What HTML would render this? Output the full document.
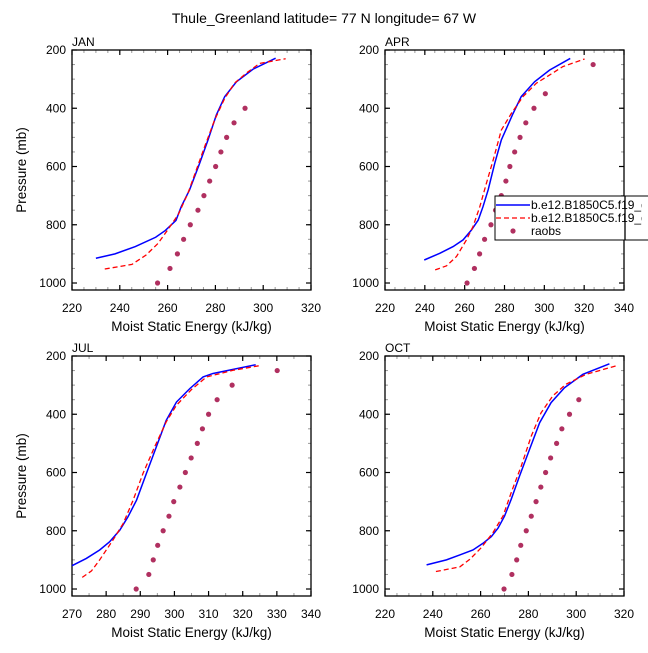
<!DOCTYPE html>
<html><head><meta charset="utf-8"><style>
html,body{margin:0;padding:0;background:#fff;}
svg text{font-family:"Liberation Sans",Arial,sans-serif;}
</style></head><body>
<svg id="chart" width="648" height="648" xmlns="http://www.w3.org/2000/svg">
<text x="324" y="23" font-size="14" text-anchor="middle">Thule_Greenland  latitude= 77 N longitude= 67 W</text>
</svg>
<script>
// JAN
const janBlueX=[230,238,246.5,255,259,263.5,265.7,269.2,273.4,276.9,280.4,283.9,288.8,295.7,305.2];
const janBlueP=[915,900,875,843,820,785,738,680,589,509,423,360,309,266,228];
const janRedX=[233.7,245.1,251,256,260,264.4,268.5,272,275.5,279.7,283.9,288,293,298.5,309.4];
const janRedP=[952,936,904,864,818,766,692,612,532,440,366,314,279,246,230];
const janObsX=[255.8,261,264.1,266.7,269.5,272.7,275.2,277.6,280.1,282.3,284.7,287.8,292.4];
const janObsP=[1000,950,900,850,800,750,700,650,600,550,500,450,400];
// APR
const aprBlueX=[239.7,247.5,254.2,259.2,263.4,266.8,269.2,271.8,275.1,278.4,284.3,288.4,295.1,302.6,313];
const aprBlueP=[921,898,875,852,818,784,738,680,589,509,418,360,309,269,229];
const aprRedX=[245.2,250.9,255.9,260.9,264.2,267.6,270.9,274.3,278.4,283.4,289.3,296,302.6,309.3,320.2];
const aprRedP=[955,941,909,852,806,738,658,578,475,418,360,314,286,257,231];
const aprObsX=[261.2,264.9,267.5,270,273.2,275.5,278.4,280.7,282.7,285.1,287.8,290.7,294.8,300.5,324.5];
const aprObsP=[1000,950,900,850,800,750,700,650,600,550,500,450,400,350,250];
// JUL
const julBlueX=[270,274.2,278.1,281,284,286.4,288.9,291.8,294.7,297.6,300.6,304.5,308.4,311.3,323.8];
const julBlueP=[920,895,866,838,798,752,695,603,512,421,358,312,272,260,230];
const julRedX=[273,275.7,278.1,282,285,287.9,290.8,294.2,297.6,300.6,305,309.4,317.2,325.5];
const julRedP=[960,938,900,832,775,695,603,512,426,369,315,272,249,232];
const julObsX=[288.8,292.5,293.8,295.1,296.7,298.4,299.8,301.6,303.2,304.9,306.7,308.2,310,312.5,316.9,330.1];
const julObsP=[1000,950,900,850,800,750,700,650,600,550,500,450,400,350,300,250];
// OCT
const octBlueX=[237.4,245.7,251.3,256.8,261,264.5,267.3,270,272.8,276.3,280.5,284.7,289.5,295.1,302.8,313.9];
const octBlueP=[917,900,883,866,843,820,791,750,692,612,520,429,360,309,263,227];
const octRedX=[241.3,251.3,255.5,260.3,265.2,269.4,272.8,277,281.2,285.3,290.2,295.7,304.1,317.5];
const octRedP=[940,924,898,858,806,749,669,578,475,395,337,297,263,232];
const octObsX=[269.8,273.1,275.1,276.8,279.1,281.2,283.2,285.2,287.2,289.3,291.8,294,297.2,301.1];
const octObsP=[1000,950,900,850,800,750,700,650,600,550,500,450,400,350];
const yTicks=[200,400,600,800,1000];

const NS="http://www.w3.org/2000/svg";
const svg=document.getElementById('chart');
function mk(tag,attrs,parent){const e=document.createElementNS(NS,tag);for(const k in attrs)e.setAttribute(k,attrs[k]);(parent||svg).appendChild(e);return e;}

const panels=[
 {name:'jan',title:'JAN',L:72,T:50,xmin:220,xmax:320,xstep:20,bx:janBlueX,bp:janBlueP,rx:janRedX,rp:janRedP,ox:janObsX,op:janObsP,ylab:true},
 {name:'apr',title:'APR',L:385,T:50,xmin:220,xmax:340,xstep:20,bx:aprBlueX,bp:aprBlueP,rx:aprRedX,rp:aprRedP,ox:aprObsX,op:aprObsP,ylab:false},
 {name:'jul',title:'JUL',L:72,T:356,xmin:270,xmax:340,xstep:10,bx:julBlueX,bp:julBlueP,rx:julRedX,rp:julRedP,ox:julObsX,op:julObsP,ylab:true},
 {name:'oct',title:'OCT',L:385,T:356,xmin:220,xmax:320,xstep:20,bx:octBlueX,bp:octBlueP,rx:octRedX,rp:octRedP,ox:octObsX,op:octObsP,ylab:false}
];
const W=239,H=240,PMIN=200,PMAX=1024;
panels.forEach(p=>{
 const g=mk('g',{});
 
 
 const sx=v=>p.L+(v-p.xmin)/(p.xmax-p.xmin)*W;
 const sy=v=>p.T+(v-PMIN)/(PMAX-PMIN)*H;
 const B=p.T+H,R=p.L+W;
 const minorStep=p.xstep/4>=5?5:p.xstep/2;
 for(let v=p.xmin;v<=p.xmax+1e-6;v+=minorStep){const x=sx(v);
  mk('line',{x1:x,y1:B,x2:x,y2:B-3,stroke:'#999','stroke-width':1},g);
  mk('line',{x1:x,y1:p.T,x2:x,y2:p.T+3,stroke:'#999','stroke-width':1},g);}
 for(let v=250;v<=1000;v+=50){const y=sy(v);
  mk('line',{x1:p.L,y1:y,x2:p.L+3,y2:y,stroke:'#999','stroke-width':1},g);
  mk('line',{x1:R,y1:y,x2:R-3,y2:y,stroke:'#999','stroke-width':1},g);}
 for(let v=p.xmin;v<=p.xmax+1e-6;v+=p.xstep){const x=sx(v);
  mk('line',{x1:x,y1:B,x2:x,y2:B-5,stroke:'#000','stroke-width':1.2},g);
  mk('line',{x1:x,y1:p.T,x2:x,y2:p.T+5,stroke:'#000','stroke-width':1.2},g);
  const t=mk('text',{x:x,y:B+22,'font-size':12,'text-anchor':'middle'},g);t.textContent=v;
  
  }
 yTicks.forEach(v=>{const y=sy(v);
  mk('line',{x1:p.L,y1:y,x2:p.L+5,y2:y,stroke:'#000','stroke-width':1.2},g);
  mk('line',{x1:R,y1:y,x2:R-5,y2:y,stroke:'#000','stroke-width':1.2},g);
  const t=mk('text',{x:p.L-6,y:y+4,'font-size':12,'text-anchor':'end'},g);t.textContent=v;
  
  });
 const f=mk('rect',{x:p.L,y:p.T,width:W,height:H,fill:'none',stroke:'#000','stroke-width':1.3},g);
 
 
 const blue=mk('polyline',{points:p.bx.map((v,i)=>sx(v)+','+sy(p.bp[i])).join(' '),fill:'none',stroke:'#0000ff','stroke-width':1.5},g);
 
 
 const red=mk('polyline',{points:p.rx.map((v,i)=>sx(v)+','+sy(p.rp[i])).join(' '),fill:'none',stroke:'#ff0000','stroke-width':1.3,'stroke-dasharray':'5,3'},g);
 
 
 p.ox.forEach((v,i)=>{const c=mk('circle',{cx:sx(v),cy:sy(p.op[i]),r:2.6,fill:'#b03060'},g);
  
  });
 const tt=mk('text',{x:p.L,y:p.T-4,'font-size':12},g);tt.textContent=p.title;
 
 
 const xt=mk('text',{x:p.L+W/2,y:B+41,'font-size':13.5,'text-anchor':'middle'},g);xt.textContent='Moist Static Energy (kJ/kg)';
 
 
 if(p.ylab){const yt=mk('text',{x:0,y:0,'font-size':13.5,'text-anchor':'middle',transform:`translate(26,${p.T+H/2}) rotate(-90)`},g);yt.textContent='Pressure (mb)';
  
  }
});
const lg=mk('g',{});


mk('clipPath',{id:'lc'},svg).appendChild(document.createElementNS(NS,'rect'));
const cr=svg.querySelector('#lc rect');cr.setAttribute('x',0);cr.setAttribute('y',0);cr.setAttribute('width',642);cr.setAttribute('height',648);
mk('rect',{x:495,y:196,width:170,height:44,fill:'#fff',stroke:'#000','stroke-width':1},lg);
mk('line',{x1:496,y1:205,x2:530,y2:205,stroke:'#0000ff','stroke-width':1.5},lg);
mk('line',{x1:496,y1:218,x2:530,y2:218,stroke:'#ff0000','stroke-width':1.3,'stroke-dasharray':'5,3'},lg);
mk('circle',{cx:513,cy:231,r:2.6,fill:'#b03060'},lg);
[['b.e12.B1850C5.f19_g16',209],['b.e12.B1850C5.f19_g16',222],['raobs',235]].forEach((d,i)=>{
 const t=mk('text',{x:531,y:d[1],'font-size':12,'clip-path':'url(#lc)'},lg);t.textContent=d[0];
 
 });
mk('line',{x1:625,y1:196,x2:625,y2:240,stroke:'#000','stroke-width':1.3},lg);
</script>
</body></html>
